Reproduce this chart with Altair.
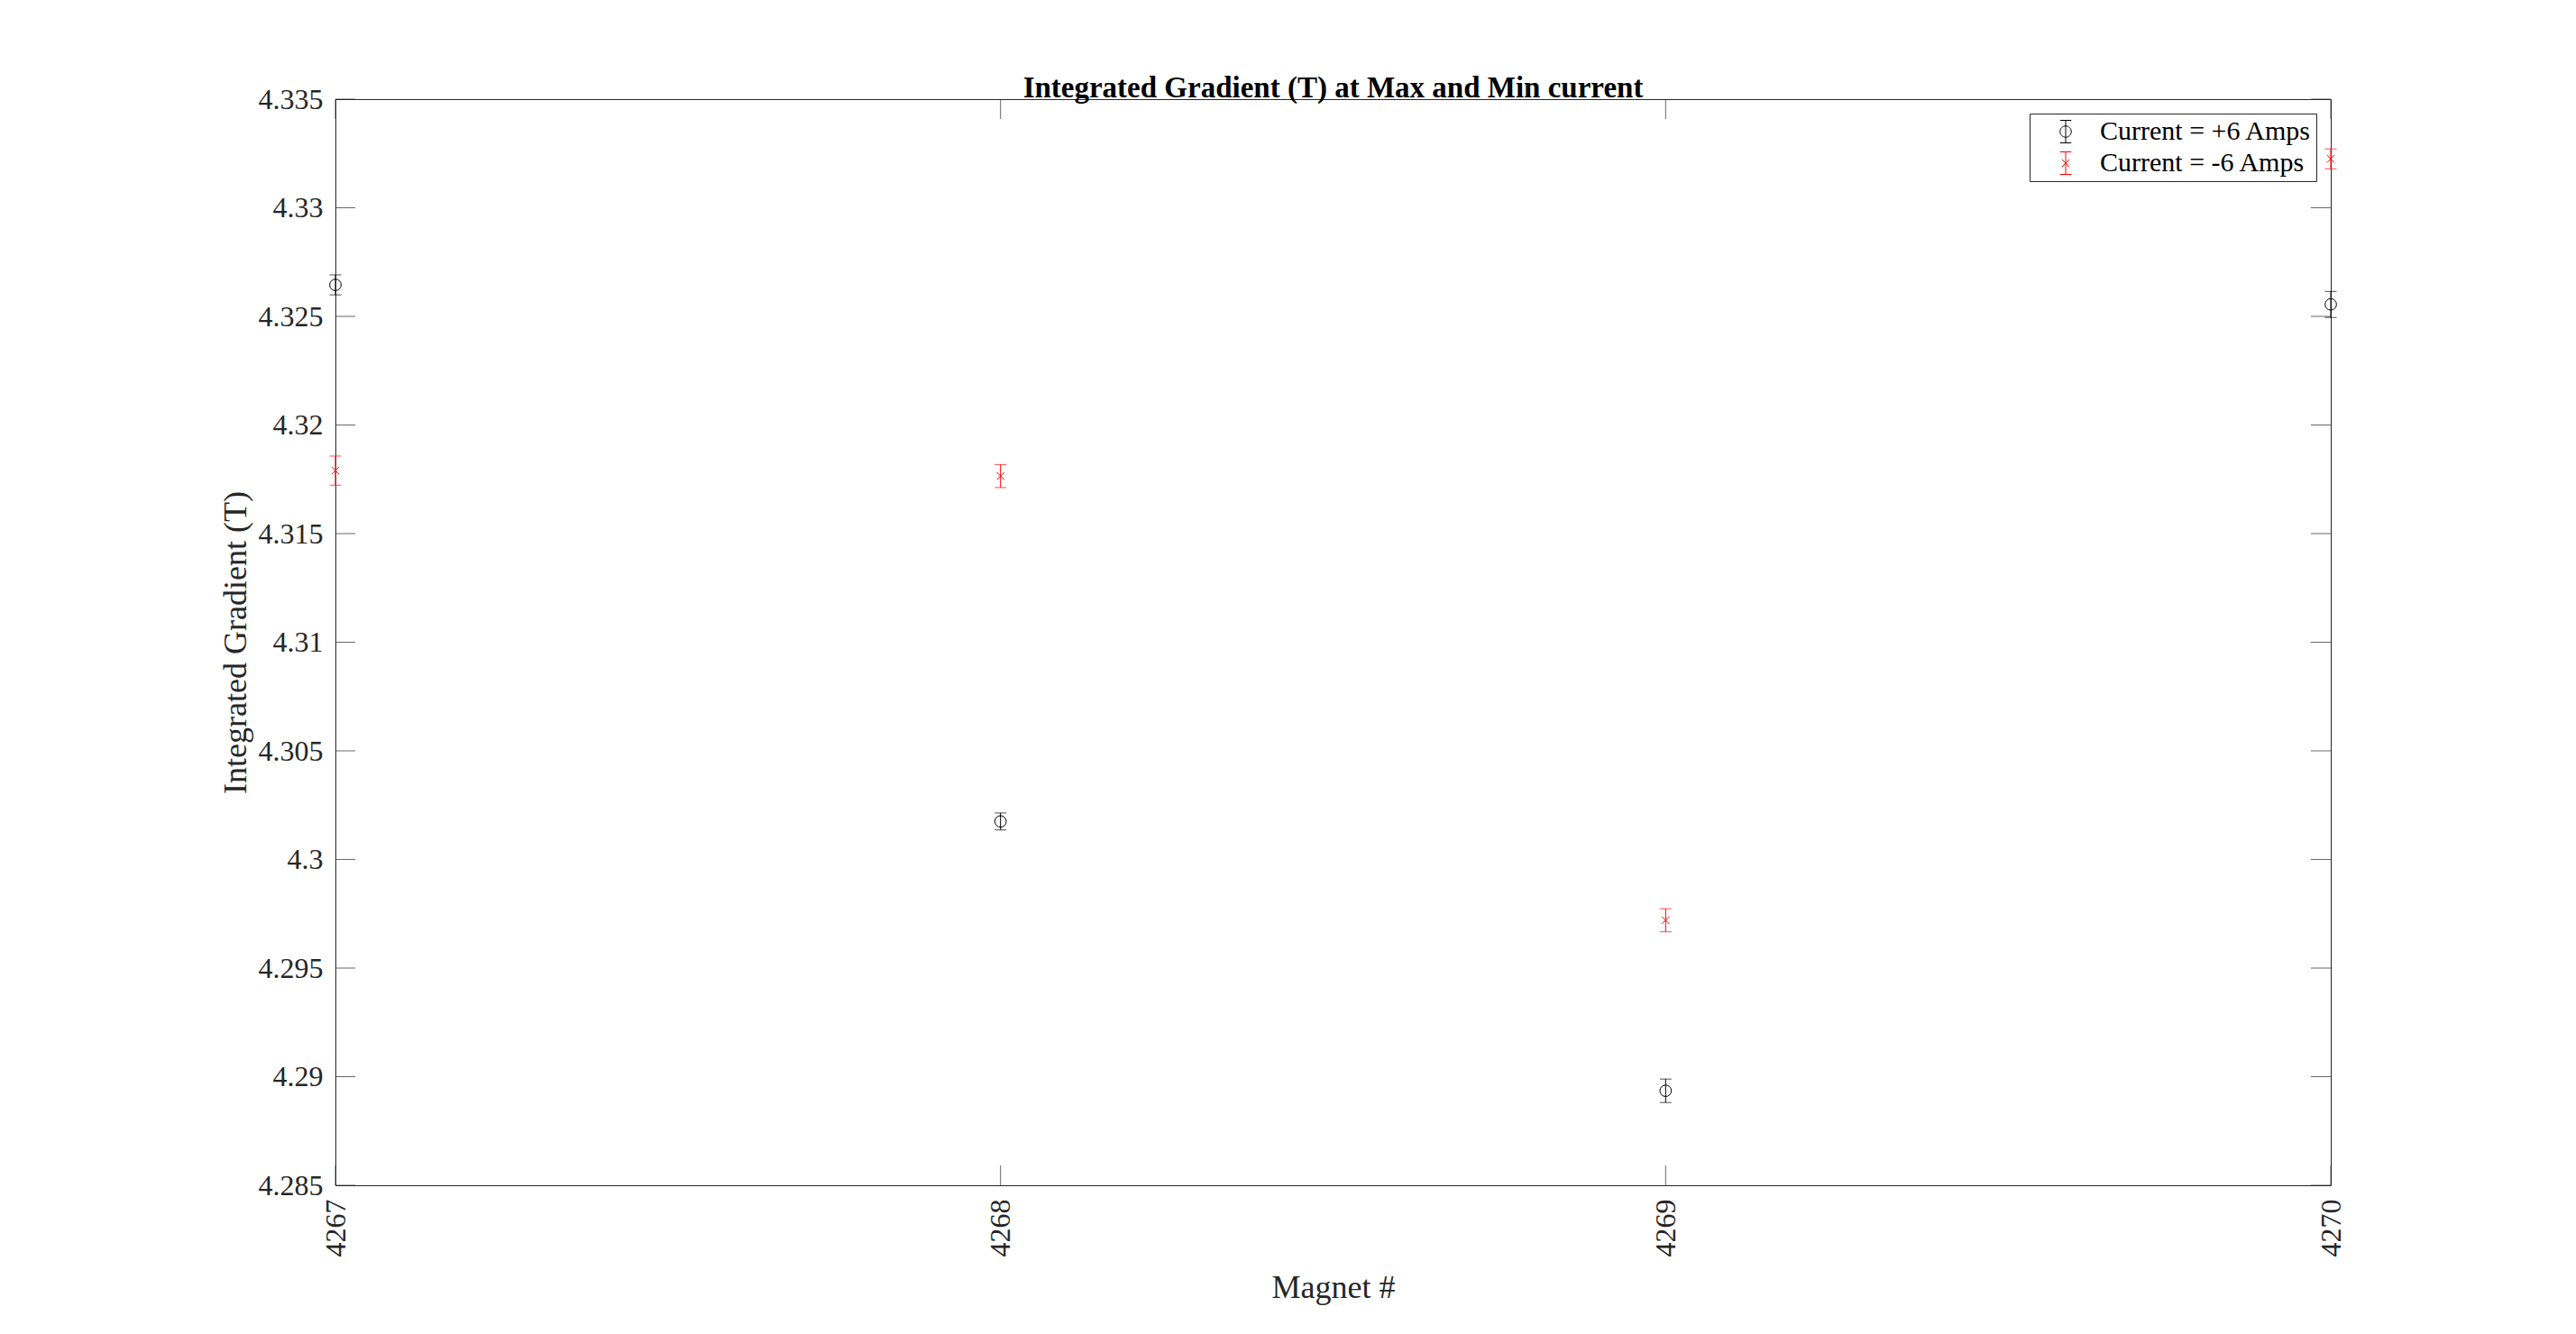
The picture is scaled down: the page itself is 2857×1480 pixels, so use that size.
import altair as alt
import pandas as pd

# ---- data ----
magnets = [4267, 4268, 4269, 4270]
pos_values = [4.32645, 4.30175, 4.28935, 4.32555]
pos_errors = [0.00046, 0.00039, 0.00054, 0.00060]
neg_values = [4.31790, 4.31765, 4.29720, 4.33225]
neg_errors = [0.00067, 0.00053, 0.00053, 0.00046]
series_names = ["Current = +6 Amps", "Current = -6 Amps"]
series_colors = ["#000000", "#FF0000"]
x_ticks = [4267, 4268, 4269, 4270]
y_ticks = [4.285, 4.29, 4.295, 4.3, 4.305, 4.31, 4.315, 4.32, 4.325, 4.33, 4.335]

title_text = "Integrated Gradient (T) at Max and Min current"
x_title = "Magnet #"
y_title = "Integrated Gradient (T)"

FONT = "Liberation Serif"
AXC = "#262626"
W, H = 2213, 1205
TICK = 22

pos_df = pd.DataFrame({"magnet": magnets, "value": pos_values,
                       "lo": [v - e for v, e in zip(pos_values, pos_errors)],
                       "hi": [v + e for v, e in zip(pos_values, pos_errors)]})
neg_df = pd.DataFrame({"magnet": magnets, "value": neg_values,
                       "lo": [v - e for v, e in zip(neg_values, neg_errors)],
                       "hi": [v + e for v, e in zip(neg_values, neg_errors)]})
xt_df = pd.DataFrame({"tick": x_ticks})
yt_df = pd.DataFrame({"tick": y_ticks})
leg_df = pd.DataFrame({"series": series_names})

x_axis = alt.Axis(values=x_ticks, format="d", labelAngle=270, ticks=False, domain=False,
                  grid=False, labelPadding=15, titlePadding=17, labelFontSize=32,
                  titleFontSize=36, labelFont=FONT, titleFont=FONT, titleFontWeight="normal",
                  labelColor=AXC, titleColor=AXC)
y_axis = alt.Axis(values=y_ticks, format=".4~g", ticks=False, domain=False, grid=False,
                  labelPadding=14, titlePadding=6, labelFontSize=32, titleFontSize=36,
                  labelFont=FONT, titleFont=FONT, titleFontWeight="normal",
                  labelColor=AXC, titleColor=AXC)
x_scale = alt.Scale(domain=[4267, 4270], nice=False, zero=False)
y_scale = alt.Scale(domain=[4.285, 4.335], nice=False, zero=False)


def X(f):
    return alt.X(f"{f}:Q", scale=x_scale, axis=x_axis, title=x_title)


def Y(f):
    return alt.Y(f"{f}:Q", scale=y_scale, axis=y_axis, title=y_title)


layers = []
# inward ticks on all four sides (box on)
layers.append(alt.Chart(yt_df).mark_tick(orient="horizontal", size=TICK, thickness=1, color=AXC)
              .encode(y=Y("tick"), x=alt.value(TICK / 2)))
layers.append(alt.Chart(yt_df).mark_tick(orient="horizontal", size=TICK, thickness=1, color=AXC)
              .encode(y=Y("tick"), x=alt.value(W - TICK / 2)))
layers.append(alt.Chart(xt_df).mark_tick(orient="vertical", size=TICK, thickness=1, color=AXC)
              .encode(x=X("tick"), y=alt.value(H - TICK / 2)))
layers.append(alt.Chart(xt_df).mark_tick(orient="vertical", size=TICK, thickness=1, color=AXC)
              .encode(x=X("tick"), y=alt.value(TICK / 2)))

X_PATH = "M-1,-1L1,1M-1,1L1,-1"
for df, col, shape, size in [(pos_df, series_colors[0], "circle", 161),
                             (neg_df, series_colors[1], X_PATH, 69)]:
    layers.append(alt.Chart(df).mark_rule(color=col, strokeWidth=1)
                  .encode(x=X("magnet"), y=Y("lo"), y2="hi"))
    for f in ["lo", "hi"]:
        layers.append(alt.Chart(df).mark_tick(orient="horizontal", size=13, thickness=1, color=col)
                      .encode(x=X("magnet"), y=Y(f)))
    layers.append(alt.Chart(df).mark_point(shape=shape, size=size, color=col, strokeWidth=1,
                                           filled=False, opacity=1)
                  .encode(x=X("magnet"), y=Y("value")))

LEG_POS = "M-0.5,-1L0.5,-1M0,-1L0,1M-0.5,1L0.5,1M0.5,0A0.5,0.5,0,1,1,-0.5,0A0.5,0.5,0,1,1,0.5,0"
LEG_NEG = "M-0.5,-1L0.5,-1M0,-1L0,1M-0.5,1L0.5,1M-0.33,-0.33L0.33,0.33M-0.33,0.33L0.33,-0.33"


def leg():
    return alt.Legend(title=None, orient="top-right", offset=16, labelFont=FONT, labelFontSize=30,
                      labelColor="#000000", labelLimit=1000, symbolSize=625, symbolStrokeWidth=1,
                      symbolOpacity=1, symbolOffset=20, labelOffset=23, rowPadding=5, padding=5,
                      strokeColor=AXC, fillColor="#FFFFFF")


layers.append(alt.Chart(leg_df).mark_point(opacity=0, filled=False).encode(
    color=alt.Color("series:N", scale=alt.Scale(domain=series_names, range=series_colors), legend=leg()),
    shape=alt.Shape("series:N", scale=alt.Scale(domain=series_names, range=[LEG_POS, LEG_NEG]), legend=leg()),
))

chart = alt.layer(*layers).properties(
    width=W, height=H,
    background="#FFFFFF",
    title=alt.TitleParams(text=title_text, font=FONT, fontSize=33, fontWeight="bold", color="#000000",
                          anchor="middle", frame="group", offset=4, baseline="alphabetic", dy=51),
    autosize=alt.AutoSizeParams(type="none"),
    padding={"left": 364, "top": 102, "right": 200, "bottom": 150},
).configure_view(stroke=AXC, strokeWidth=1)

chart.save("out.html", embed_options={"renderer": "svg", "actions": False})
